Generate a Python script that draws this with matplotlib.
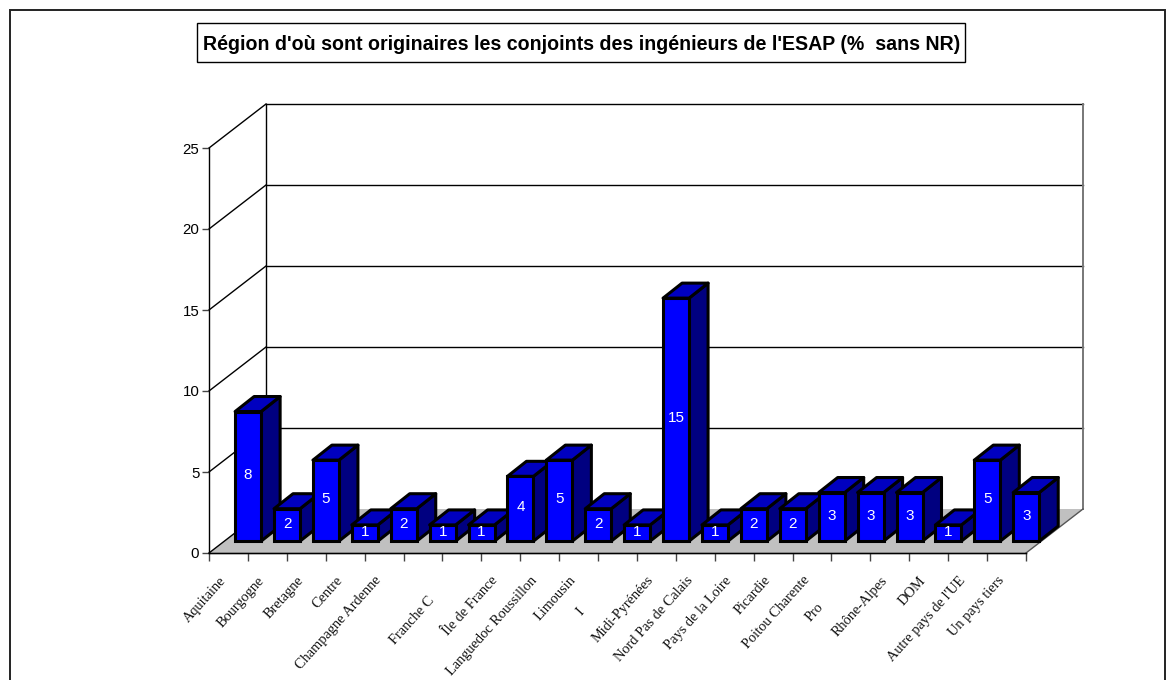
#!/usr/bin/env python3
"""3D-looking bar chart, drawn on plain 2D axes with a sheared depth offset."""
import matplotlib
matplotlib.use("Agg")
import matplotlib.pyplot as plt
from matplotlib.patches import Polygon, Rectangle

TITLE = "Région d'où sont originaires les conjoints des ingénieurs de l'ESAP (%  sans NR)"
LABELS = ["Aquitaine", "Bourgogne", "Bretagne", "Centre", "Champagne Ardenne", "",
          "", "Île de France", "Languedoc Roussillon", "Limousin", "",
          "Midi-Pyrénées", "Nord Pas de Calais", "Pays de la Loire", "Picardie",
          "Poitou Charente", "", "Rhône-Alpes", "DOM", "Autre pays de l'UE", "Un pays tiers"]
# labels cut off in the original: text, slot, offset in points
CLIPPED = [("Franche C", 6, (-18, -30)), ("I", 10, (-22, -38)), ("Pro", 16, (-18, -34))]
VALUES = [8, 2, 5, 1, 2, 1, 1, 4, 5, 2, 1, 15, 1, 2, 2, 3, 3, 3, 1, 5, 3]
YTICKS = [0, 5, 10, 15, 20, 25]

W, H = 1175, 680
# front plane of the chart, in pixels
L, R, T, B = 209, 1026, 148, 553
DX = 57 / ((R - L) / 21)   # depth of the box in x units
DY = 44 / ((B - T) / 25)   # depth of the box in y units
BAR_W = 26 / ((R - L) / 21)
BAR_DX, BAR_DY = DX * 19 / 57, DY * 15 / 44
BASE_DX, BASE_DY = DX * 0.27, DY * 0.27

fig = plt.figure(figsize=(W / 100, H / 100), dpi=100)
ax = fig.add_axes([L / W, 1 - B / H, (R - L) / W, (B - T) / H])
ax.set_xlim(0, 21)
ax.set_ylim(0, 25)
ax.patch.set_visible(False)
for s in ("top", "right"):
    ax.spines[s].set_visible(False)
for s in ("left", "bottom"):
    ax.spines[s].set_linewidth(1.0)

# outer frame, runs off the bottom of the picture
fig.add_artist(Rectangle((10 / W, -0.1), 1155 / W, 1.1 - 10 / H, transform=fig.transFigure,
                         fill=False, ec="#222222", lw=1.4))

# floor
ax.add_patch(Polygon([(0, 0), (21, 0), (21 + DX, DY), (DX, DY)], fc="#c0c0c0", ec="none",
                     zorder=1, clip_on=False))
ax.plot([0, 21], [0, 0], color="#444444", lw=1, zorder=2, clip_on=False)
ax.plot([21, 21 + DX], [0, DY], color="#555555", lw=1, zorder=2, clip_on=False)
ax.plot([0, DX], [0, DY], color="black", lw=1, zorder=2, clip_on=False)

# back wall and side wall grid
for v in YTICKS[1:]:
    ax.plot([DX, 21 + DX], [v + DY, v + DY], color="black", lw=1, zorder=1, clip_on=False)
    ax.plot([0, DX], [v, v + DY], color="black", lw=1, zorder=1, clip_on=False)
ax.plot([DX, DX], [DY, 25 + DY], color="black", lw=1, zorder=1, clip_on=False)
ax.plot([21 + DX, 21 + DX], [DY, 25 + DY], color="#777777", lw=1.4, zorder=1, clip_on=False)

# bars, left to right so each one sits over the side of the previous one
for i, v in enumerate(VALUES):
    x0 = i + 0.5 - BAR_W / 2 + BASE_DX + 0.11
    y0 = BASE_DY
    x1, y1 = x0 + BAR_W, y0 + v
    z = 3 + i * 0.01
    ec = dict(ec="black", lw=2.2, joinstyle="round", zorder=z, clip_on=False)
    ax.add_patch(Polygon([(x1, y0), (x1 + BAR_DX, y0 + BAR_DY), (x1 + BAR_DX, y1 + BAR_DY), (x1, y1)],
                         fc="#000080", **ec))
    ax.add_patch(Polygon([(x0, y1), (x1, y1), (x1 + BAR_DX, y1 + BAR_DY), (x0 + BAR_DX, y1 + BAR_DY)],
                         fc="#0000c0", **ec))
    ax.bar(x0, v, width=BAR_W, bottom=y0, align="edge", color="#0000ff", edgecolor="black",
           linewidth=2.2, zorder=z, clip_on=False)
    ax.text(x0 + BAR_W / 2, y0 + v / 2 + 0.08, str(v), color="white", ha="center", va="center",
            fontsize=11, family="Liberation Sans", zorder=z + 0.001)

# ticks: marks on the slot edges, labels in the slot middles
ax.set_xticks(range(22))
ax.set_xticklabels([])
ax.tick_params(axis="x", which="major", length=6, width=1, color="#444444")
ax.set_xticks([i + 0.25 for i in range(21)], minor=True)
ax.set_xticklabels(LABELS, minor=True, rotation=48, ha="right", va="top", rotation_mode="anchor",
                   family="Liberation Serif", fontsize=10.4)
ax.tick_params(axis="x", which="minor", length=0, pad=15, colors="#111111")
ax.set_yticks(YTICKS)
ax.set_yticklabels(YTICKS, family="Liberation Sans", fontsize=10.8)
ax.tick_params(axis="y", length=5, width=1, color="#444444", pad=2)

for text, slot, off in CLIPPED:
    ax.annotate(text, xy=(slot + 0.25, 0), xytext=off, textcoords="offset points", rotation=48,
                ha="right", va="top", rotation_mode="anchor", family="Liberation Serif",
                fontsize=10.4, color="#111111", annotation_clip=False)

# title box
fig.add_artist(Rectangle((197 / W, 1 - 62 / H), 768 / W, 39 / H, transform=fig.transFigure,
                         fc="white", ec="black", lw=1))
fig.text(581.5 / W, 1 - 44 / H, TITLE, ha="center", va="center", fontsize=14.1, fontweight="bold",
         family="Liberation Sans", color="black")

fig.savefig("out.png", dpi=100)
